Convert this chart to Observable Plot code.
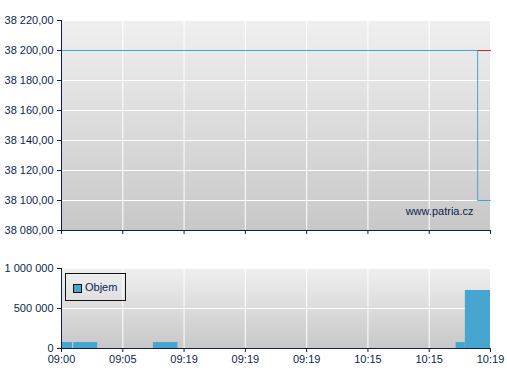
<!DOCTYPE html>
<html>
<head>
<meta charset="utf-8">
<script src="https://cdn.jsdelivr.net/npm/d3@7"></script>
<script src="https://cdn.jsdelivr.net/npm/@observablehq/plot@0.6"></script>
<style>
  html, body { margin: 0; padding: 0; background: #fff; }
  #wrap { position: relative; width: 507px; height: 380px; font-family: "Liberation Sans", Arial, sans-serif; }
  #wrap svg { display: block; }
  #legend { position: absolute; left: 65px; top: 273px; width: 59px; height: 26px; border: 1px solid #111;
            font-size: 11px; color: #0b1f4f; box-sizing: content-box; }
  #legend .sw { position: absolute; left: 7px; top: 10px; width: 7px; height: 7px; border: 1px solid #111; background: #46a6d0; }
  #legend .lb { position: absolute; left: 19px; top: 7px; line-height: 13px; }
</style>
</head>
<body>
<div id="wrap"></div>
<script>
// ---- data ----
const xTickLabels = ["09:00", "09:05", "09:19", "09:19", "09:19", "10:15", "10:15", "10:19"];
const priceYTicks = [38080, 38100, 38120, 38140, 38160, 38180, 38200, 38220];
const priceX = [0, 6.79, 7];
const priceY = [38200, 38100, 38100];
const refX = [6.79, 7];
const refY = [38200, 38200];
const volStart = [0, 0.2, 1.5, 6.44, 6.59];
const volEnd = [0.18, 0.59, 1.9, 6.59, 7];
const volume = [75000, 75000, 75000, 75000, 725000];
const volYTicks = [0, 500000, 1000000];
const legendLabel = "Objem";
const watermark = "www.patria.cz";

// ---- styles ----
const navy = "#0b1f4f";
const lineBlue = "#44a5d5";
const barBlue = "#46a6d0";
const refRed = "#e02424";
const xTicks = xTickLabels.map((_, i) => i);
const cz = d3.formatLocale({decimal: ",", thousands: " ", grouping: [3], currency: ["", ""]});
const fmtPrice = cz.format(",.2f");
const fmtVol = cz.format(",d");

const priceData = priceX.map((x, i) => ({x, y: priceY[i]}));
const refData = refX.map((x, i) => ({x, y: refY[i]}));
const volData = volume.map((v, i) => ({x1: volStart[i], x2: volEnd[i], v}));

function addGradient(svg, id) {
  const defs = d3.select(svg).insert("defs", ":first-child");
  const g = defs.append("linearGradient").attr("id", id).attr("x1", 0).attr("x2", 0).attr("y1", 0).attr("y2", 1);
  g.append("stop").attr("offset", "0%").attr("stop-color", "#efefef");
  g.append("stop").attr("offset", "100%").attr("stop-color", "#c8c8c8");
}

const baseStyle = {fontFamily: "'Liberation Sans', Arial, sans-serif", fontSize: "11px", color: navy, background: "transparent", overflow: "visible"};

const priceChart = Plot.plot({
  width: 507, height: 240,
  marginTop: 20, marginBottom: 10, marginLeft: 61, marginRight: 17,
  style: baseStyle,
  x: {domain: [0, 7]},
  y: {domain: [38080, 38220]},
  marks: [
    Plot.frame({fill: "url(#gTop)", stroke: null}),
    Plot.gridX(xTicks, {stroke: "white", strokeOpacity: 1}),
    Plot.gridY(priceYTicks, {stroke: "white", strokeOpacity: 1}),
    Plot.line(priceData, {x: "x", y: "y", curve: "step-after", stroke: lineBlue, strokeWidth: 1}),
    Plot.line(refData, {x: "x", y: "y", stroke: refRed, strokeWidth: 1}),
    Plot.text([watermark], {text: d => d, frameAnchor: "bottom-right", dx: -17, dy: -16, fill: navy, fontSize: 11}),
    Plot.axisY({ticks: priceYTicks, tickFormat: fmtPrice, tickSize: 4, tickPadding: 4, label: null}),
    Plot.axisX({ticks: xTicks, tickFormat: () => "", tickSize: 4, label: null}),
    Plot.ruleX([0], {stroke: navy}),
    Plot.ruleY([38080], {stroke: navy})
  ]
});
addGradient(priceChart, "gTop");

const volChart = Plot.plot({
  width: 507, height: 140,
  marginTop: 28, marginBottom: 32, marginLeft: 61, marginRight: 17,
  style: baseStyle,
  x: {domain: [0, 7]},
  y: {domain: [0, 1000000]},
  marks: [
    Plot.frame({fill: "url(#gBot)", stroke: null}),
    Plot.gridX(xTicks, {stroke: "white", strokeOpacity: 1}),
    Plot.gridY(volYTicks, {stroke: "white", strokeOpacity: 1}),
    Plot.rectY(volData, {x1: "x1", x2: "x2", y: "v", fill: barBlue}),
    Plot.axisY({ticks: volYTicks, tickFormat: fmtVol, tickSize: 4, tickPadding: 4, label: null}),
    Plot.axisX({ticks: xTicks, tickFormat: i => xTickLabels[i], tickSize: 4, tickPadding: 3, label: null}),
    Plot.ruleX([0], {stroke: navy}),
    Plot.ruleY([0], {stroke: navy})
  ]
});
addGradient(volChart, "gBot");

const wrap = document.getElementById("wrap");
wrap.appendChild(priceChart);
wrap.appendChild(volChart);
const leg = document.createElement("div");
leg.id = "legend";
leg.innerHTML = `<div class="sw"></div><div class="lb"></div>`;
leg.querySelector(".lb").textContent = legendLabel;
wrap.appendChild(leg);
</script>
</body>
</html>
